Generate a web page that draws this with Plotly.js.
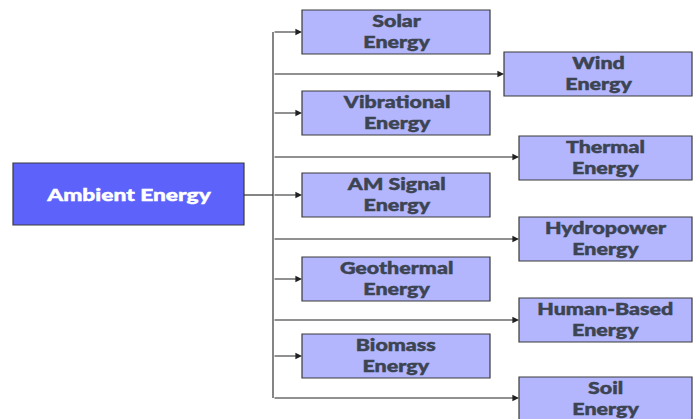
<!DOCTYPE html>
<html>
<head>
<meta charset="utf-8">
<script src="https://cdn.plot.ly/plotly-3.0.1.min.js"></script>
<style>html,body{margin:0;padding:0;background:#fff;}#chart{width:697px;height:419px;}</style>
</head>
<body>
<div id="chart"></div>
<script>
// Diagram content
const rootLabel = "Ambient Energy";
const childLabels = ["Solar<br>Energy", "Wind<br>Energy", "Vibrational<br>Energy", "Thermal<br>Energy",
  "AM Signal<br>Energy", "Hydropower<br>Energy", "Geothermal<br>Energy", "Human-Based<br>Energy",
  "Biomass<br>Energy", "Soil<br>Energy"];
// Box geometry (diagram coordinates, y grows downward)
const childLeft   = [302, 504, 302, 519, 302, 519, 302, 519, 302, 519];
const childRight  = [490, 692, 490, 692, 490, 692, 490, 692, 490, 692];
const childTop    = [10, 52, 91, 136, 173, 217, 257, 298, 334, 377];
const childBottom = [54, 96, 135, 180, 217, 261, 301, 342, 378, 425];
const arrowY      = [32, 74, 113, 157, 195, 239, 279, 320, 356, 398];
const rootBox = [13, 244, 163, 225]; // left, right, top, bottom
const trunkX = 273;

const shapes = [];
const annotations = [];
const textFont = {family: "Lato", size: 16.5, weight: 900, color: "#3C4452"};

shapes.push({type: "rect", xref: "x", yref: "y", x0: rootBox[0], x1: rootBox[1], y0: rootBox[2], y1: rootBox[3],
  fillcolor: "#5D63FA", line: {color: "#3a3a3a", width: 1.2}});
annotations.push({x: (rootBox[0] + rootBox[1]) / 2, y: (rootBox[2] + rootBox[3]) / 2, xref: "x", yref: "y",
  text: rootLabel, showarrow: false,
  font: {family: "Lato", size: 17.5, weight: 900, color: "#ffffff"}});
shapes.push({type: "line", xref: "x", yref: "y", x0: rootBox[1], x1: trunkX, y0: arrowY[4], y1: arrowY[4],
  line: {color: "#333", width: 1.2}});
shapes.push({type: "line", xref: "x", yref: "y", x0: trunkX, x1: trunkX, y0: arrowY[0], y1: arrowY[arrowY.length - 1],
  line: {color: "#333", width: 1.2}});

for (let i = 0; i < childLabels.length; i++) {
  shapes.push({type: "rect", xref: "x", yref: "y", x0: childLeft[i], x1: childRight[i], y0: childTop[i], y1: childBottom[i],
    fillcolor: "#B3B6FC", line: {color: "#3a3a3a", width: 1.2}});
  const cy = childTop[i] + 21;
  annotations.push({x: (childLeft[i] + childRight[i]) / 2, y: cy, xref: "x", yref: "y",
    text: childLabels[i], showarrow: false, font: textFont});
  annotations.push({x: childLeft[i], y: arrowY[i], xref: "x", yref: "y", ax: trunkX, ay: arrowY[i], axref: "x", ayref: "y",
    text: "", showarrow: true, arrowhead: 2, arrowsize: 1.1, arrowwidth: 1.2, arrowcolor: "#222", standoff: 0});
}

const data = [{x: [0, 697], y: [0, 419], mode: "markers", marker: {opacity: 0}, hoverinfo: "skip", showlegend: false}];
const layout = {
  width: 697, height: 419, margin: {l: 0, r: 0, t: 0, b: 0},
  paper_bgcolor: "#ffffff", plot_bgcolor: "#ffffff",
  xaxis: {range: [0, 697], visible: false, fixedrange: true},
  yaxis: {range: [419, 0], visible: false, fixedrange: true},
  shapes: shapes, annotations: annotations, showlegend: false
};

// The reference lettering is wide and heavy: widen each label around its own centre
const stretchX = 1.3;
Plotly.newPlot("chart", data, layout, {displayModeBar: false, staticPlot: true}).then(function () {
  document.querySelectorAll(".annotation-text").forEach(function (t) {
    if (!t.textContent) return;
    const b = t.getBBox();
    const cx = b.x + b.width / 2;
    const prev = t.getAttribute("transform") || "";
    t.setAttribute("transform", prev + " translate(" + cx + ",0) scale(" + stretchX + ",1) translate(" + (-cx) + ",0)");
    t.style.stroke = t.style.fill || getComputedStyle(t).fill;
    t.style.strokeWidth = "0.45px";
    t.style.paintOrder = "stroke";
  });
});
</script>
</body>
</html>
